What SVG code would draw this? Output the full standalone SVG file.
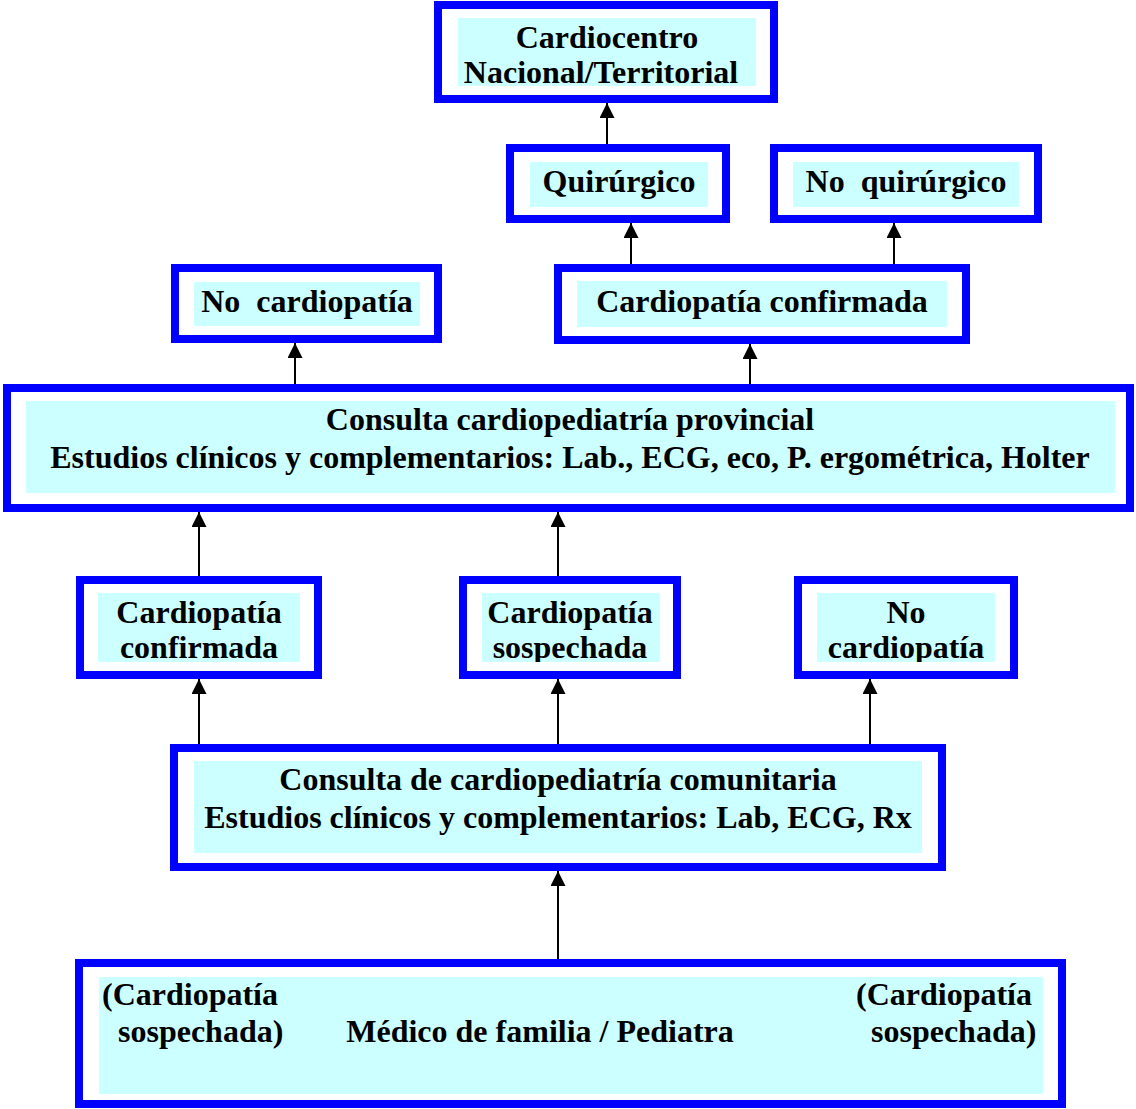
<svg xmlns="http://www.w3.org/2000/svg" width="1136" height="1109" viewBox="0 0 1136 1109">
<style>
.frame{fill:#FFFFFF;stroke:#0000FF;stroke-width:8}
.fill{fill:#CCFFFF}
text{font-family:"Liberation Serif","Times New Roman",serif;font-weight:bold;font-size:32px;fill:#000000}
.c{text-anchor:middle}
.conn{stroke:#000000;stroke-width:2;fill:none;marker-end:url(#ah)}
</style>
<defs>
<marker id="ah" markerUnits="userSpaceOnUse" markerWidth="15" markerHeight="15" viewBox="0 0 15 15" refX="15" refY="7.5" orient="auto">
<path d="M0,0 L15,7.5 L0,15 z" fill="#000000"/>
</marker>
<clipPath id="clipA"><rect x="98" y="593" width="202" height="69"/></clipPath>
<clipPath id="clipB"><rect x="482" y="593" width="178" height="69"/></clipPath>
<clipPath id="clipC"><rect x="817" y="593" width="178" height="69"/></clipPath>
</defs>
<rect width="1136" height="1109" fill="#FFFFFF"/>

<g id="cardiocentro">
<rect class="frame" x="438" y="5" width="336" height="94"/>
<rect class="fill" x="458" y="18" width="298" height="68"/>
<text class="c" x="607" y="48">Cardiocentro</text>
<text class="c" x="601" y="83">Nacional/Territorial</text>
</g>

<g id="quirurgico">
<rect class="frame" x="510" y="148" width="216" height="71"/>
<rect class="fill" x="530" y="162" width="178" height="45"/>
<text class="c" x="619" y="192">Quirúrgico</text>
</g>

<g id="no-quirurgico">
<rect class="frame" x="774" y="148" width="264" height="71"/>
<rect class="fill" x="793" y="162" width="226" height="45"/>
<text class="c" x="906" y="192" xml:space="preserve">No  quirúrgico</text>
</g>

<g id="no-cardiopatia-prov">
<rect class="frame" x="175" y="268" width="263" height="71"/>
<rect class="fill" x="194" y="282" width="226" height="44"/>
<text class="c" x="307" y="312" xml:space="preserve">No  cardiopatía</text>
</g>

<g id="cardiopatia-confirmada-prov">
<rect class="frame" x="558" y="268" width="408" height="72"/>
<rect class="fill" x="577" y="281" width="370" height="46"/>
<text class="c" x="762" y="312">Cardiopatía confirmada</text>
</g>

<g id="consulta-provincial">
<rect class="frame" x="7" y="388" width="1123" height="120"/>
<rect class="fill" x="26" y="401" width="1089" height="92"/>
<text class="c" x="570" y="430">Consulta cardiopediatría provincial</text>
<text class="c" x="570" y="468">Estudios clínicos y complementarios: Lab., ECG, eco, P. ergométrica, Holter</text>
</g>

<g id="cardiopatia-confirmada-com">
<rect class="frame" x="80" y="580" width="238" height="95"/>
<rect class="fill" x="98" y="593" width="202" height="69"/>
<g clip-path="url(#clipA)">
<text class="c" x="199" y="623">Cardiopatía</text>
<text class="c" x="199" y="658">confirmada</text>
</g>
</g>

<g id="cardiopatia-sospechada-com">
<rect class="frame" x="463" y="580" width="214" height="95"/>
<rect class="fill" x="482" y="593" width="178" height="69"/>
<g clip-path="url(#clipB)">
<text class="c" x="570" y="623">Cardiopatía</text>
<text class="c" x="570" y="658">sospechada</text>
</g>
</g>

<g id="no-cardiopatia-com">
<rect class="frame" x="798" y="580" width="216" height="95"/>
<rect class="fill" x="817" y="593" width="178" height="69"/>
<g clip-path="url(#clipC)">
<text class="c" x="906" y="623">No</text>
<text class="c" x="906" y="658">cardiopatía</text>
</g>
</g>

<g id="consulta-comunitaria">
<rect class="frame" x="174" y="748" width="768" height="119"/>
<rect class="fill" x="194" y="761" width="728" height="92"/>
<text class="c" x="558" y="790">Consulta de cardiopediatría comunitaria</text>
<text class="c" x="558" y="828">Estudios clínicos y complementarios: Lab, ECG, Rx</text>
</g>

<g id="medico-familia">
<rect class="frame" x="79" y="963" width="983" height="141"/>
<rect class="fill" x="99" y="977" width="944" height="117"/>
<text x="102" y="1005">(Cardiopatía</text>
<text x="118" y="1042">sospechada)</text>
<text class="c" x="540" y="1042">Médico de familia / Pediatra</text>
<text x="856" y="1005">(Cardiopatía</text>
<text x="871" y="1042">sospechada)</text>
</g>

<g id="connectors">
<line class="conn" x1="607" y1="144" x2="607" y2="103"/>
<line class="conn" x1="631" y1="264" x2="631" y2="223"/>
<line class="conn" x1="894" y1="264" x2="894" y2="223"/>
<line class="conn" x1="295" y1="384" x2="295" y2="343"/>
<line class="conn" x1="750" y1="384" x2="750" y2="344"/>
<line class="conn" x1="199" y1="576" x2="199" y2="512"/>
<line class="conn" x1="558" y1="576" x2="558" y2="512"/>
<line class="conn" x1="199" y1="744" x2="199" y2="679"/>
<line class="conn" x1="558" y1="744" x2="558" y2="679"/>
<line class="conn" x1="870" y1="744" x2="870" y2="679"/>
<line class="conn" x1="558" y1="959" x2="558" y2="871"/>
</g>
</svg>
